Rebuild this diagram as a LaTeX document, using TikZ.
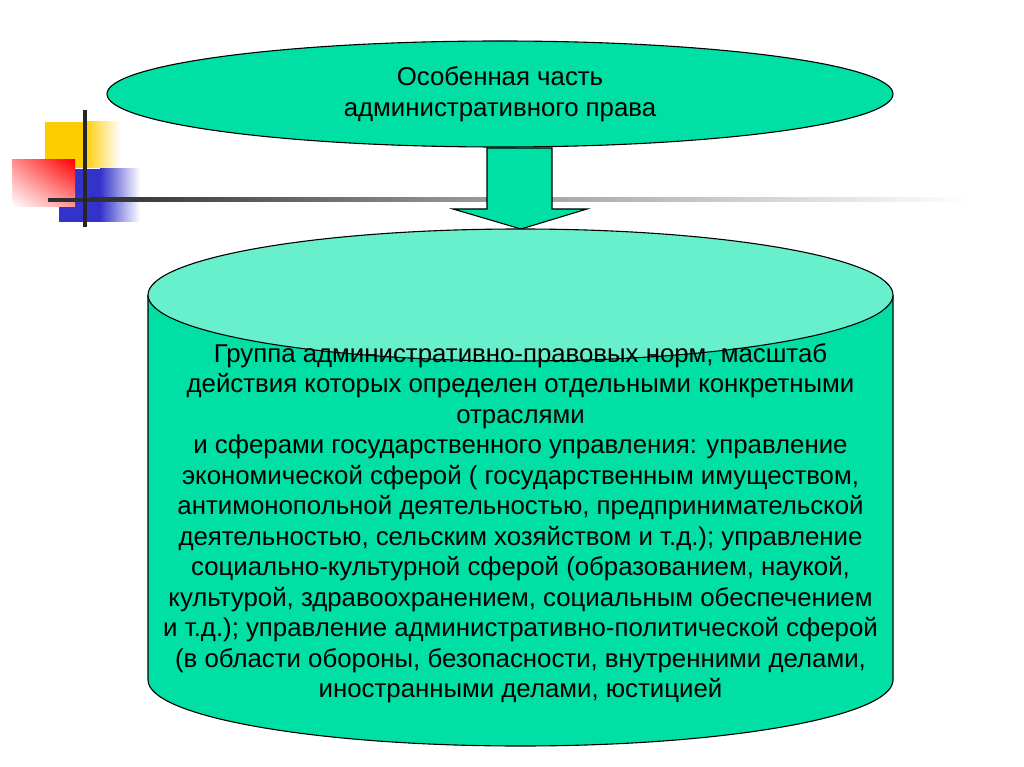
\documentclass[tikz,border=0pt]{standalone}
\usepackage{fontspec}
\setmainfont{Liberation Sans}
\usetikzlibrary{shapes.geometric,shadings}
\definecolor{mint}{RGB}{0,224,164}
\definecolor{mintlight}{RGB}{104,240,204}
\definecolor{decoyellow}{RGB}{255,204,0}
\definecolor{decoblue}{RGB}{51,51,204}
\definecolor{decored}{RGB}{255,0,0}

\begin{document}
\begin{tikzpicture}[x=1pt,y=1pt,
    mintshape/.style={fill=mint,draw=black,line width=1.1pt},
    bigtext/.style={font=\fontsize{25.8}{30.5}\selectfont,align=center,inner sep=0pt}]
            \useasboundingbox (0,0) rectangle (1024,-767);
            \fill [white] (0,0) rectangle (1024,-767);
            \fill [decoyellow] (45,-122) rectangle (84,-168);
            \shade [left color=decoyellow,right color=white] (84,-122) rectangle (120,-168);
            \fill [decoblue] (59,-169) rectangle (100,-222);
            \shade [left color=decoblue,right color=white] (100,-169) rectangle (140,-222);
            \shade [upper right=decored,upper left=decored!45,lower right=decored!40,lower left=white] (12,-160) rectangle (75,-207);
            \fill [black!82] (48,-198) rectangle (92,-202);
            \shade [left color=black!82,right color=black!42] (90,-198) rectangle (462,-202);
            \shade [left color=black!42,right color=white] (460,-198) rectangle (970,-202);
            \draw [black!85,line width=3.5pt] (85,-110) -- (85,-227);
            \node [mintshape,ellipse,minimum width=786,minimum height=106,bigtext] (osob) at (500,-94) {Особенная часть\\административного права};
            \draw [mintshape] (487,-148) -- (552,-148) -- (552,-209) -- (587,-209) -- (521,-229) -- (453,-209) -- (487,-209) -- cycle;
            \fill [mint] (148,-295) -- (148,-680) arc (180:360:372.5 and 66) -- (893,-295) -- cycle;
            \draw [black,line width=1.1pt] (148,-295) -- (148,-680) arc (180:360:372.5 and 66) -- (893,-295);
            \draw [black,line width=1.1pt,fill=mintlight] (520.5,-295) ellipse (372.5 and 66);
            \node [bigtext] (gruppa) at (520.5,-523) {Группа административно-правовых норм, масштаб\\действия которых определен отдельными конкретными\\отраслями\\ и сферами государственного управления: управление\\экономической сферой ( государственным имуществом,\\антимонопольной деятельностью, предпринимательской\\деятельностью, сельским хозяйством и т.д.); управление\\социально-культурной сферой (образованием, наукой,\\культурой, здравоохранением, социальным обеспечением\\и т.д.); управление административно-политической сферой\\(в области обороны, безопасности, внутренними делами,\\иностранными делами, юстицией};
\end{tikzpicture}
\end{document}
